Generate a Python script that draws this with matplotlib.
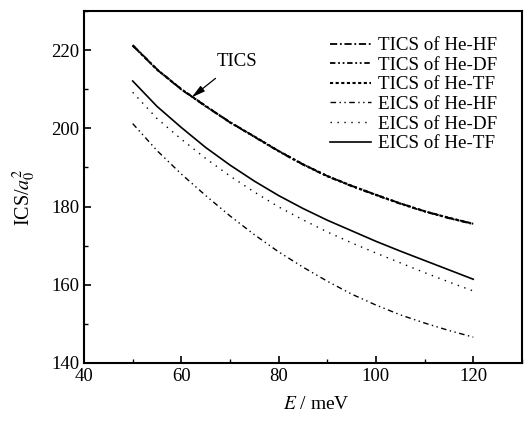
import matplotlib
matplotlib.use("Agg")
import matplotlib.pyplot as plt
from matplotlib.ticker import MultipleLocator

plt.rcParams['font.family'] = ['Liberation Serif', 'DejaVu Serif']
plt.rcParams['mathtext.fontset'] = 'stix'

E = [50, 55, 60, 65, 70, 75, 80, 85, 90, 95, 100, 105, 110, 115, 120]
tics_hf = [221.3, 215.1, 210.0, 205.7, 201.6, 197.9, 194.2, 190.8, 187.8, 185.3, 183.0, 180.8, 178.8, 177.1, 175.6]
tics_df = [221.1, 215.0, 209.9, 205.6, 201.5, 197.8, 194.1, 190.7, 187.7, 185.2, 182.9, 180.7, 178.7, 177.0, 175.5]
tics_tf = [221.2, 215.0, 210.0, 205.7, 201.5, 197.9, 194.2, 190.8, 187.8, 185.3, 183.0, 180.8, 178.8, 177.1, 175.6]
eics_hf = [201.2, 194.3, 188.3, 182.8, 177.6, 172.8, 168.4, 164.5, 160.9, 157.6, 154.8, 152.3, 150.2, 148.3, 146.6]
eics_df = [209.2, 202.5, 197.2, 192.3, 187.8, 183.7, 179.9, 176.6, 173.5, 170.7, 168.1, 165.6, 163.1, 160.7, 158.4]
eics_tf = [212.1, 205.6, 200.2, 195.1, 190.6, 186.5, 182.8, 179.5, 176.5, 173.8, 171.1, 168.6, 166.2, 163.8, 161.4]

labels = ["TICS of He-HF", "TICS of He-DF", "TICS of He-TF",
          "EICS of He-HF", "EICS of He-DF", "EICS of He-TF"]

fig = plt.figure(figsize=(5.32, 4.23), dpi=100)
ax = fig.add_axes([0.158, 0.142, 0.823, 0.832])

ax.plot(E, tics_hf, color='k', lw=1.3, ls=(0, (4, 1.5, 1, 1.5)), label=labels[0])
ax.plot(E, tics_df, color='k', lw=1.3, ls=(0, (3, 1.5, 1, 1.5, 1, 1.5)), label=labels[1])
ax.plot(E, tics_tf, color='k', lw=1.5, ls=(0, (1.5, 1.2)), label=labels[2])
ax.plot(E, eics_hf, color='k', lw=1.0, ls=(0, (4, 2.5, 1, 2.5, 1, 2.5)), label=labels[3])
ax.plot(E, eics_df, color='k', lw=1.0, ls=(0, (1, 4)), label=labels[4])
ax.plot(E, eics_tf, color='k', lw=1.2, ls='-', label=labels[5])

ax.set_xlim(40, 130)
ax.set_ylim(140, 230)
ax.set_xticks([40, 60, 80, 100, 120])
ax.set_yticks([140, 160, 180, 200, 220])
ax.xaxis.set_minor_locator(MultipleLocator(10))
ax.yaxis.set_minor_locator(MultipleLocator(10))
ax.tick_params(which='major', direction='in', length=5, width=1.2, labelsize=13.5,
               top=False, right=False)
ax.tick_params(which='minor', direction='in', length=3, width=1.0, top=False, right=False)
for s in ax.spines.values():
    s.set_linewidth(1.5)

ax.set_xlabel(r"$E$ / meV", fontsize=14)
ax.set_ylabel(r"ICS/$a_0^2$", fontsize=14.5)
ax.xaxis.set_label_coords(0.53, -0.095)
ax.yaxis.set_label_coords(-0.105, 0.47)

ax.annotate("TICS", xy=(62.1, 207.9), xytext=(71.5, 217.2), fontsize=13.5,
            ha='center', va='center',
            arrowprops=dict(arrowstyle='-|>,head_length=0.6,head_width=0.15',
                            color='k', lw=0.9, shrinkA=7, shrinkB=0))

ax.legend(loc='upper right', bbox_to_anchor=(0.961, 0.948), borderaxespad=0,
          frameon=False, fontsize=13.7, handlelength=2.2,
          handletextpad=0.35, labelspacing=0.12, borderpad=0.4)

fig.savefig("out.png", dpi=100)
